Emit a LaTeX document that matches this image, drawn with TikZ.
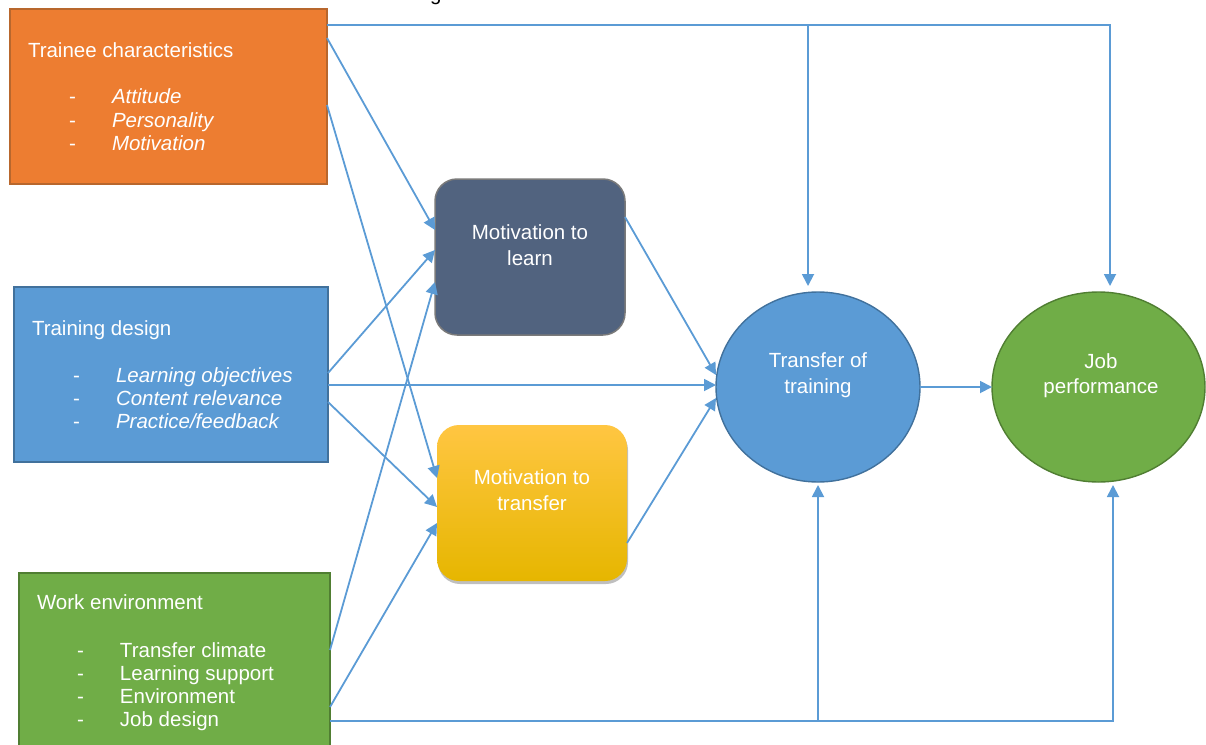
\documentclass[tikz,border=0pt]{standalone}
\usepackage{fontspec}
\setmainfont{Liberation Sans}
\usetikzlibrary{arrows.meta,shapes.geometric,shadows}

\definecolor{cOrange}{HTML}{ED7D31}
\definecolor{cOrangeLine}{HTML}{B8672D}
\definecolor{cBlue}{HTML}{5B9BD5}
\definecolor{cBlueLine}{HTML}{41719C}
\definecolor{cGreen}{HTML}{70AD47}
\definecolor{cGreenLine}{HTML}{507E32}
\definecolor{cSlate}{HTML}{51637F}
\definecolor{cGrey}{HTML}{7A7A7A}
\definecolor{cGoldTop}{HTML}{FFC642}
\definecolor{cGoldMid}{HTML}{FFC000}
\definecolor{cGoldBot}{HTML}{E6B600}

\begin{document}
\begin{tikzpicture}[x=1pt,y=-1pt,
  every node/.style={font=\fontsize{20.5}{23.5}\selectfont, text=white, inner sep=0pt, outer sep=0pt},
  factor/.style={draw, line width=1.4pt},
  txt/.style={anchor=base west},
  lbl/.style={anchor=base},
  conn/.style={draw=cBlue, line width=1.8pt},
  arr/.style={conn, -{Triangle[length=12pt,width=12pt]}}
]
\useasboundingbox (0,0) rectangle (1206,744);

% cropped heading above the diagram
\node[txt, text=black] (head) at (430,0.5) {g};

% ---- input factors ----
\node[factor, fill=cOrange, draw=cOrangeLine, minimum width=317pt, minimum height=175pt] (tc) at (168.5,96.5) {};
\node[txt] (tc0) at (28,57) {Trainee characteristics};
\node[txt] (tc1) at (69,103) {\makebox[43pt][l]{-}\textit{Attitude}};
\node[txt] (tc2) at (69,127) {\makebox[43pt][l]{-}\textit{Personality}};
\node[txt] (tc3) at (69,150) {\makebox[43pt][l]{-}\textit{Motivation}};

\node[factor, fill=cBlue, draw=cBlueLine, minimum width=314pt, minimum height=175pt] (td) at (171,374.5) {};
\node[txt] (td0) at (32,335) {Training design};
\node[txt] (td1) at (73,382) {\makebox[43pt][l]{-}\textit{Learning objectives}};
\node[txt] (td2) at (73,405) {\makebox[43pt][l]{-}\textit{Content relevance}};
\node[txt] (td3) at (73,428) {\makebox[43pt][l]{-}\textit{Practice/feedback}};

\node[factor, fill=cGreen, draw=cGreenLine, minimum width=311pt, minimum height=190pt] (we) at (174.5,668) {};
\node[txt] (we0) at (37,609) {Work environment};
\node[txt] (we1) at (77,657) {\makebox[43pt][l]{-}Transfer climate};
\node[txt] (we2) at (77,680) {\makebox[43pt][l]{-}Learning support};
\node[txt] (we3) at (77,703) {\makebox[43pt][l]{-}Environment};
\node[txt] (we4) at (77,726) {\makebox[43pt][l]{-}Job design};

% ---- motivation ----
\node[draw=cGrey, line width=1.5pt, fill=cSlate, rounded corners=22pt,
      minimum width=190pt, minimum height=156pt] (mtl) at (530,257) {};
\node[lbl] (mtl1) at (530,239) {Motivation to};
\node[lbl] (mtl2) at (530,265) {learn};

\node[rounded corners=22pt, minimum width=190pt, minimum height=156pt,
      top color=cGoldTop, middle color=cGoldMid, bottom color=cGoldBot,
      drop shadow={shadow xshift=1pt, shadow yshift=-3pt, fill=black, opacity=0.25}] (mtt) at (532,503) {};
\node[lbl] (mtt1) at (532,484) {Motivation to};
\node[lbl] (mtt2) at (532,510) {transfer};

% ---- outcomes ----
\node[ellipse, draw=cBlueLine, line width=1.4pt, fill=cBlue, minimum width=204pt, minimum height=190pt] (tt) at (818,387) {};
\node[lbl] (tt1) at (818,367) {Transfer of};
\node[lbl] (tt2) at (818,393) {training};

\node[ellipse, draw=cGreenLine, line width=1.4pt, fill=cGreen, minimum width=213pt, minimum height=190pt] (jp) at (1098.5,387) {};
\node[lbl] (jp1) at (1101,368) {Job};
\node[lbl] (jp2) at (1101,393) {performance};

% ---- connectors ----
\draw[arr] ([yshift=-29pt]tc.north east) -- ([yshift=-51pt]mtl.north west);
\draw[arr] ([yshift=-96pt]tc.north east) -- ([yshift=-53pt]mtt.north west);

\draw[arr] ([yshift=-86pt]td.north east) -- ([yshift=-71pt]mtl.north west);
\draw[arr] ([yshift=-98pt]td.north east) -- ([yshift=2pt]tt.west);
\draw[arr] ([yshift=-115pt]td.north east) -- ([yshift=-82pt]mtt.north west);

\draw[arr] ([yshift=-77pt]we.north east) -- ([yshift=-103pt]mtl.north west);
\draw[arr] ([yshift=-134pt]we.north east) -- ([yshift=-98pt]mtt.north west);

\draw[arr] ([yshift=-38pt]mtl.north east) -- ([yshift=12pt]tt.west);
\draw[arr] ([yshift=-118pt]mtt.north east) -- ([yshift=-11pt]tt.west);

\draw[arr] (tt) -- (jp);

% direct paths along the top and bottom
\coordinate (topbend) at (1110,25);
\coordinate (topsplit) at (808,25);
\coordinate (jpin) at (1110,286);
\coordinate (ttin) at (808,286);
\draw[arr] ([yshift=-16pt]tc.north east) -- (topbend) -- (jpin);
\draw[arr] (topsplit) -- (ttin);

\coordinate (botbend) at (1113,721);
\coordinate (botsplit) at (818,721);
\coordinate (jpout) at (1113,485);
\coordinate (ttout) at (818,485);
\draw[arr] ([yshift=-148pt]we.north east) -- (botbend) -- (jpout);
\draw[arr] (botsplit) -- (ttout);
\end{tikzpicture}
\end{document}
